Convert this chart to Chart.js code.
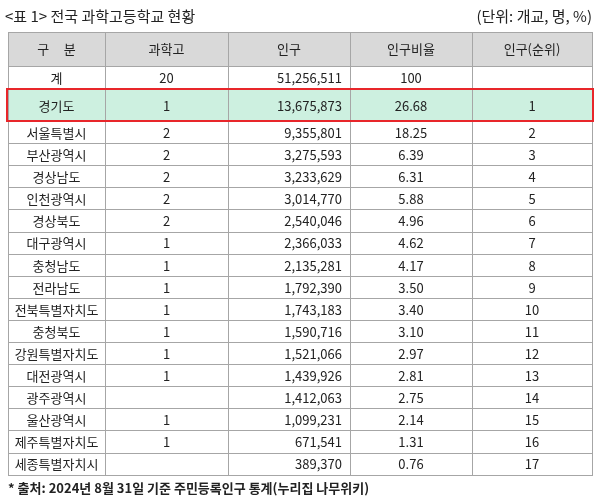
<!DOCTYPE html>
<html><head><meta charset="utf-8">
<script src="https://cdn.jsdelivr.net/npm/chart.js@4"></script>
<style>html,body{margin:0;padding:0;background:#fff}#c{display:block}</style>
</head><body><canvas id="c" width="600" height="501"></canvas>
<script>
const headers = ['구     분','과학고','인구','인구비율','인구(순위)'];
const regions = ['계','경기도','서울특별시','부산광역시','경상남도','인천광역시','경상북도','대구광역시','충청남도','전라남도','전북특별자치도','충청북도','강원특별자치도','대전광역시','광주광역시','울산광역시','제주특별자치도','세종특별자치시'];
const schools = ['20','1','2','2','2','2','2','1','1','1','1','1','1','1','','1','1',''];
const population = ['51,256,511','13,675,873','9,355,801','3,275,593','3,233,629','3,014,770','2,540,046','2,366,033','2,135,281','1,792,390','1,743,183','1,590,716','1,521,066','1,439,926','1,412,063','1,099,231','671,541','389,370'];
const ratio = ['100','26.68','18.25','6.39','6.31','5.88','4.96','4.62','4.17','3.50','3.40','3.10','2.97','2.81','2.75','2.14','1.31','0.76'];
const rank = ['','1','2','3','4','5','6','7','8','9','10','11','12','13','14','15','16','17'];
const title = '<표 1> 전국 과학고등학교 현황';
const unit = '(단위: 개교, 명, %)';
const source = '* 출처: 2024년 8월 31일 기준 주민등록인구 통계(누리집 나무위키)';

const colX = [8,105,228,350,472,592];
const rowY = [32,66,89,121];
for (let i=0;i<16;i++) rowY.push(121 + (i+1)*22.1);
const FONT = '"Noto Sans CJK KR","Noto Sans",sans-serif';

const tablePlugin = {
  id:'table',
  afterDraw(chart){
    const {ctx, scales:{x,y}} = chart;
    const px = v=>x.getPixelForValue(v), py = v=>y.getPixelForValue(v);
    ctx.save();
    ctx.fillStyle='#222'; ctx.font='15px '+FONT; ctx.textBaseline='middle';
    ctx.textAlign='left'; ctx.fillText(title, px(5), py(16));
    ctx.textAlign='right'; ctx.fillText(unit, px(592), py(16));
    ctx.fillStyle='#d9d9d9'; ctx.fillRect(px(colX[0]),py(rowY[0]),px(colX[5])-px(colX[0]),py(rowY[1])-py(rowY[0]));
    ctx.fillStyle='#cdf0e0'; ctx.fillRect(px(colX[0]),py(rowY[2]),px(colX[5])-px(colX[0]),py(rowY[3])-py(rowY[2]));
    ctx.strokeStyle='#a6a6a6'; ctx.lineWidth=1;
    for (const yy of rowY){const yv=Math.round(py(yy))+0.5;ctx.beginPath();ctx.moveTo(px(colX[0]),yv);ctx.lineTo(px(colX[5]),yv);ctx.stroke();}
    for (const xx of colX){ctx.beginPath();ctx.moveTo(px(xx)+0.5,py(rowY[0]));ctx.lineTo(px(xx)+0.5,Math.round(py(rowY[rowY.length-1]))+1);ctx.stroke();}
    ctx.strokeStyle='#e8262a'; ctx.lineWidth=2;
    ctx.strokeRect(px(colX[0]-1),py(rowY[2]),px(colX[5]+1)-px(colX[0]-1),py(rowY[3])-py(rowY[2]));
    ctx.fillStyle='#222'; ctx.font='13px '+FONT; ctx.textAlign='center';
    headers.forEach((h,i)=>ctx.fillText(h,(px(colX[i])+px(colX[i+1]))/2,(py(rowY[0])+py(rowY[1]))/2));
    regions.forEach((r,k)=>{
      const cy=(py(rowY[k+1])+py(rowY[k+2]))/2+1;
      const cx=i=>(px(colX[i])+px(colX[i+1]))/2;
      ctx.textAlign='center';
      ctx.fillText(r,cx(0),cy); ctx.fillText(schools[k],cx(1),cy);
      ctx.fillText(ratio[k],cx(3),cy); ctx.fillText(rank[k],cx(4),cy);
      ctx.textAlign='right'; ctx.fillText(population[k],px(colX[3]-8),cy);
    });
    ctx.font='bold 13px '+FONT; ctx.textAlign='left';
    ctx.fillText(source,px(8),py(488));
    ctx.restore();
  }
};
new Chart(document.getElementById('c'),{
  type:'scatter',
  data:{datasets:[{data:[]}]},
  options:{responsive:false,animation:false,layout:{padding:0},
    plugins:{legend:{display:false},tooltip:{enabled:false}},
    scales:{x:{type:'linear',min:0,max:600,display:false},y:{type:'linear',min:0,max:501,reverse:true,display:false}}},
  plugins:[tablePlugin]
});
</script></body></html>
